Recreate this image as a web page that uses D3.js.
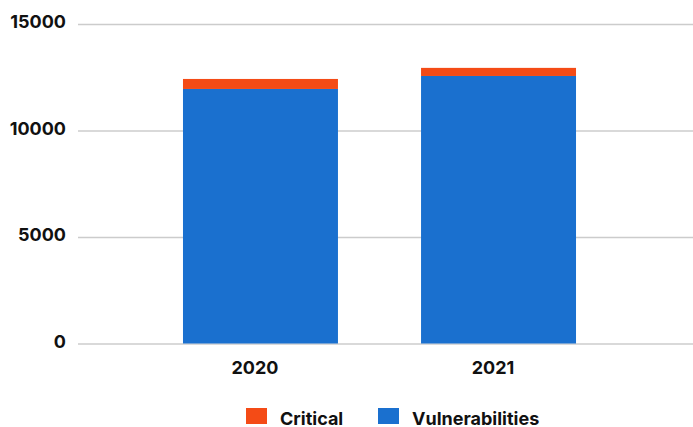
<!DOCTYPE html>
<html>
<head>
<meta charset="utf-8">
<script src="https://cdn.jsdelivr.net/npm/d3@7"></script>
<style>
  body { margin: 0; background: #fff; }
  svg { display: block; }
  svg text { font-family: Inter, "Noto Sans", sans-serif; }
</style>
</head>
<body>
<div id="chart"></div>
<script>
// chart data
const years = ["2020", "2021"];
const vulnerabilities = [11950, 12560];
const critical = [470, 380];
const yTicks = [0, 5000, 10000, 15000];
const seriesNames = ["Critical", "Vulnerabilities"];
const colors = { Critical: "#f44b16", Vulnerabilities: "#1a70cf" };

const width = 693, height = 427;
const margin = { top: 24, right: 1, bottom: 83, left: 78 };

const svg = d3.select("#chart").append("svg")
  .attr("width", width)
  .attr("height", height);

// scales
const x = d3.scaleBand()
  .domain(years)
  .range([margin.left, 681])
  .paddingInner(0.349)
  .paddingOuter(0.441);

const y = d3.scaleLinear()
  .domain([0, 15000])
  .range([height - margin.bottom - 0.5, margin.top]);

// stacked data, blue at bottom
const table = years.map((yr, i) => ({
  year: yr,
  Vulnerabilities: vulnerabilities[i],
  Critical: critical[i],
}));
const stacked = d3.stack().keys(["Vulnerabilities", "Critical"])(table);

// gridlines + y labels
const yAxis = d3.axisLeft(y)
  .tickValues(yTicks)
  .tickSize(-(width - margin.left))
  .tickPadding(12)
  .tickFormat(d3.format("d"));

svg.append("g")
  .attr("transform", `translate(${margin.left},0)`)
  .call(yAxis)
  .attr("font-family", null)
  .call((g) => g.select(".domain").remove())
  .call((g) => g.selectAll(".tick line").attr("stroke", "#cccccc").attr("stroke-width", 1.5))
  .call((g) => g.selectAll(".tick text")
    .attr("fill", "#111")
    .attr("dy", "0.2em")
    .style("font-size", "18px")
    .style("font-weight", "700"));

// bars
svg.append("g")
  .selectAll("g")
  .data(stacked)
  .join("g")
  .attr("fill", (d) => colors[d.key])
  .selectAll("rect")
  .data((d) => d)
  .join("rect")
  .attr("x", (d) => x(d.data.year))
  .attr("width", x.bandwidth())
  .attr("y", (d) => y(d[1]))
  .attr("height", (d) => y(d[0]) - y(d[1]));

// x labels (sit a little left of bar centre, as in the original)
const xAxis = d3.axisBottom(x).tickSize(0).tickPadding(18);
svg.append("g")
  .attr("transform", `translate(0,${y(0)})`)
  .call(xAxis)
  .attr("font-family", null)
  .call((g) => g.select(".domain").remove())
  .call((g) => g.selectAll(".tick text")
    .attr("fill", "#111")
    .attr("dx", -5.5)
    .style("font-size", "18px")
    .style("font-weight", "700"));

// legend
const legendPos = [246, 378];
const legend = svg.append("g")
  .selectAll("g")
  .data(seriesNames)
  .join("g")
  .attr("transform", (d, i) => `translate(${legendPos[i]},408)`);

legend.append("rect")
  .attr("width", 21)
  .attr("height", 16)
  .attr("fill", (d) => colors[d]);

legend.append("text")
  .attr("x", 34)
  .attr("y", 16.5)
  .attr("fill", "#111")
  .style("font-size", "18px")
  .style("font-weight", "700")
  .text((d) => d);
</script>
</body>
</html>
